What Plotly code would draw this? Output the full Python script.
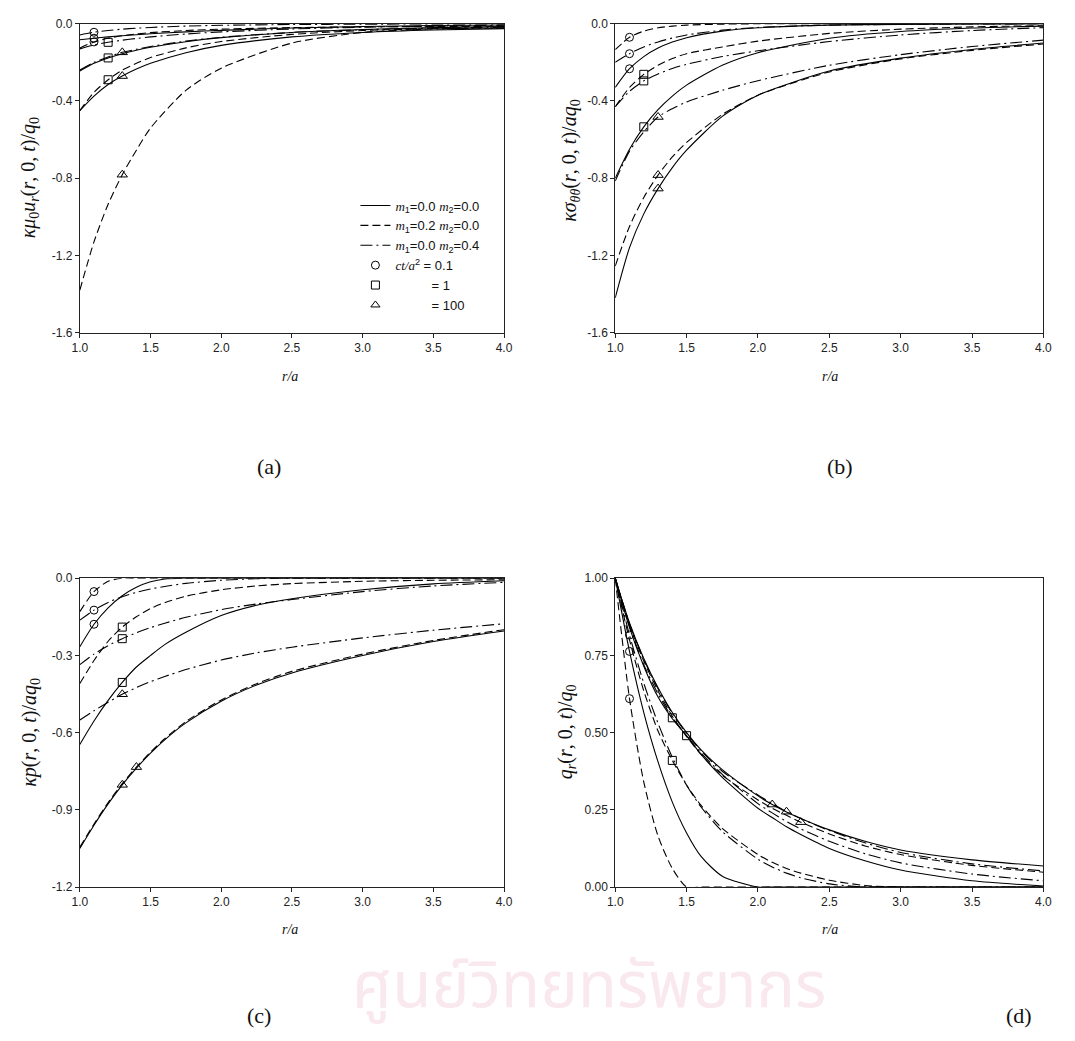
import plotly.graph_objects as go

# ---- radial positions (r/a) used for each panel ----
R_A = [1.0, 1.1, 1.2, 1.3, 1.4, 1.5, 1.75, 2.0, 2.5, 3.0, 3.5, 4.0]
R_B = [1.0, 1.1, 1.2, 1.3, 1.4, 1.5, 1.75, 2.0, 2.5, 3.0, 3.5, 4.0]
R_C = [1.0, 1.1, 1.2, 1.3, 1.4, 1.5, 1.6, 1.75, 2.0, 2.25, 2.5, 3.0, 3.5, 4.0]
R_D = [1.0, 1.1, 1.2, 1.3, 1.4, 1.5, 1.6, 1.75, 2.0, 2.1, 2.2, 2.3, 2.5, 2.75, 3.0, 3.5, 4.0]

# ---- (a) radial displacement ----
A_SOLID_T01 = [-0.083, -0.075, -0.068, -0.062, -0.057, -0.052, -0.042, -0.034, -0.022, -0.014, -0.009, -0.006]
A_DASH_T01 = [-0.125, -0.094, -0.075, -0.062, -0.053, -0.046, -0.035, -0.028, -0.020, -0.016, -0.014, -0.013]
A_DOT_T01 = [-0.058, -0.044, -0.035, -0.028, -0.023, -0.019, -0.012, -0.008, -0.004, -0.002, -0.001, -0.001]
A_SOLID_T1 = [-0.245, -0.205, -0.177, -0.155, -0.137, -0.122, -0.093, -0.072, -0.045, -0.030, -0.020, -0.014]
A_DASH_T1 = [-0.450, -0.355, -0.290, -0.240, -0.205, -0.175, -0.125, -0.092, -0.055, -0.035, -0.026, -0.021]
A_DOT_T1 = [-0.130, -0.110, -0.096, -0.085, -0.076, -0.068, -0.053, -0.042, -0.027, -0.018, -0.012, -0.008]
A_SOLID_T100 = [-0.450, -0.375, -0.315, -0.271, -0.235, -0.205, -0.150, -0.112, -0.068, -0.045, -0.032, -0.025]
A_DASH_T100 = [-1.380, -1.130, -0.935, -0.782, -0.655, -0.540, -0.345, -0.230, -0.100, -0.045, -0.027, -0.022]
A_DOT_T100 = [-0.240, -0.200, -0.172, -0.148, -0.132, -0.118, -0.090, -0.070, -0.045, -0.031, -0.023, -0.018]

# ---- (b) hoop stress ----
B_SOLID_T01 = [-0.330, -0.233, -0.170, -0.126, -0.095, -0.072, -0.038, -0.021, -0.007, -0.003, -0.001, 0.0]
B_DASH_T01 = [-0.134, -0.070, -0.038, -0.021, -0.012, -0.007, -0.002, 0.0, 0.0, 0.0, 0.0, 0.0]
B_DOT_T01 = [-0.200, -0.155, -0.120, -0.094, -0.074, -0.058, -0.033, -0.019, -0.007, -0.003, -0.001, 0.0]
B_SOLID_T1 = [-0.800, -0.650, -0.534, -0.445, -0.375, -0.318, -0.215, -0.150, -0.075, -0.040, -0.022, -0.012]
B_DASH_T1 = [-0.430, -0.330, -0.262, -0.215, -0.180, -0.155, -0.120, -0.090, -0.050, -0.028, -0.016, -0.010]
B_DOT_T1 = [-0.430, -0.350, -0.296, -0.260, -0.232, -0.210, -0.170, -0.140, -0.092, -0.058, -0.035, -0.020]
B_SOLID_T100 = [-1.420, -1.160, -0.985, -0.854, -0.745, -0.655, -0.480, -0.370, -0.245, -0.178, -0.133, -0.100]
B_DASH_T100 = [-1.255, -1.050, -0.900, -0.784, -0.690, -0.615, -0.470, -0.370, -0.250, -0.182, -0.138, -0.105]
B_DOT_T100 = [-0.815, -0.660, -0.560, -0.483, -0.440, -0.405, -0.345, -0.295, -0.215, -0.160, -0.118, -0.085]

# ---- (c) pore pressure ----
C_SOLID_T01 = [-0.266, -0.179, -0.115, -0.068, -0.035, -0.014, -0.003, 0.0, 0.0, 0.0, 0.0, 0.0, 0.0, 0.0]
C_DASH_T01 = [-0.130, -0.052, -0.012, 0.0, 0.0, 0.0, 0.0, 0.0, 0.0, 0.0, 0.0, 0.0, 0.0, 0.0]
C_DOT_T01 = [-0.163, -0.124, -0.094, -0.072, -0.055, -0.042, -0.032, -0.020, -0.008, -0.002, 0.0, 0.0, 0.0, 0.0]
C_SOLID_T1 = [-0.646, -0.555, -0.475, -0.405, -0.345, -0.300, -0.258, -0.210, -0.145, -0.105, -0.080, -0.045, -0.022, -0.010]
C_DASH_T1 = [-0.409, -0.320, -0.245, -0.190, -0.150, -0.118, -0.095, -0.070, -0.045, -0.030, -0.021, -0.012, -0.008, -0.006]
C_DOT_T1 = [-0.336, -0.295, -0.262, -0.235, -0.212, -0.192, -0.175, -0.152, -0.122, -0.100, -0.083, -0.052, -0.030, -0.016]
C_SOLID_T100 = [-1.050, -0.960, -0.877, -0.803, -0.738, -0.680, -0.628, -0.562, -0.478, -0.415, -0.368, -0.300, -0.246, -0.205]
C_DASH_T100 = [-1.045, -0.955, -0.872, -0.798, -0.734, -0.676, -0.624, -0.557, -0.473, -0.410, -0.362, -0.295, -0.242, -0.200]
C_DOT_T100 = [-0.551, -0.515, -0.482, -0.451, -0.425, -0.402, -0.382, -0.355, -0.318, -0.290, -0.268, -0.232, -0.202, -0.177]

# ---- (d) radial fluid flux ----
D_SOLID_T01 = [1.0, 0.763, 0.565, 0.405, 0.275, 0.175, 0.100, 0.035, 0.0, 0.0, 0.0, 0.0, 0.0, 0.0, 0.0, 0.0, 0.0]
D_DASH_T01 = [1.0, 0.610, 0.340, 0.165, 0.060, 0.0, 0.0, 0.0, 0.0, 0.0, 0.0, 0.0, 0.0, 0.0, 0.0, 0.0, 0.0]
D_DOT_T01 = [1.0, 0.816, 0.660, 0.530, 0.420, 0.330, 0.260, 0.180, 0.090, 0.065, 0.045, 0.030, 0.010, 0.0, 0.0, 0.0, 0.0]
D_SOLID_T1 = [1.0, 0.840, 0.715, 0.615, 0.545, 0.490, 0.430, 0.355, 0.255, 0.225, 0.195, 0.170, 0.125, 0.085, 0.055, 0.020, 0.003]
D_DASH_T1 = [1.0, 0.800, 0.635, 0.505, 0.410, 0.330, 0.265, 0.190, 0.105, 0.080, 0.060, 0.045, 0.022, 0.005, 0.0, 0.0, 0.0]
D_DOT_T1 = [1.0, 0.845, 0.720, 0.625, 0.548, 0.490, 0.435, 0.365, 0.270, 0.240, 0.212, 0.188, 0.148, 0.108, 0.078, 0.042, 0.020]
D_SOLID_T100 = [1.0, 0.855, 0.740, 0.645, 0.565, 0.500, 0.445, 0.380, 0.295, 0.267, 0.243, 0.222, 0.185, 0.148, 0.120, 0.088, 0.068]
D_DASH_T100 = [1.0, 0.850, 0.732, 0.635, 0.553, 0.487, 0.430, 0.362, 0.282, 0.255, 0.232, 0.210, 0.172, 0.133, 0.105, 0.070, 0.048]
D_DOT_T100 = [1.0, 0.853, 0.737, 0.642, 0.562, 0.497, 0.442, 0.375, 0.298, 0.270, 0.244, 0.222, 0.183, 0.143, 0.112, 0.075, 0.052]

# r/a where each time level carries its symbol, per panel: (t=0.1, t=1, t=100)
MARK_A = {"solid": (1.1, 1.2, 1.3), "dash": (1.1, 1.2, 1.3), "dot": (1.1, 1.2, 1.3)}
MARK_B = {"solid": (1.1, 1.2, 1.3), "dash": (1.1, 1.2, 1.3), "dot": (1.1, 1.2, 1.3)}
MARK_C = {"solid": (1.1, 1.3, 1.3), "dash": (1.1, 1.3, 1.4), "dot": (1.1, 1.3, 1.3)}
MARK_D = {"solid": (1.1, 1.5, 2.1), "dash": (1.1, 1.4, 2.3), "dot": (1.1, 1.4, 2.2)}

X_TICKS = [1.0, 1.5, 2.0, 2.5, 3.0, 3.5, 4.0]
X_TICK_TEXT = ["1.0", "1.5", "2.0", "2.5", "3.0", "3.5", "4.0"]
Y_TICKS_AB = [0.0, -0.4, -0.8, -1.2, -1.6]
Y_TICK_TEXT_AB = ["0.0", "-0.4", "-0.8", "-1.2", "-1.6"]
Y_TICKS_C = [0.0, -0.3, -0.6, -0.9, -1.2]
Y_TICK_TEXT_C = ["0.0", "-0.3", "-0.6", "-0.9", "-1.2"]
Y_TICKS_D = [0.0, 0.25, 0.5, 0.75, 1.0]
Y_TICK_TEXT_D = ["0.00", "0.25", "0.50", "0.75", "1.00"]

DASHES = {"solid": "solid", "dash": "8px,4px", "dot": "12px,4px,2px,4px"}
SYMBOLS = ("circle-open", "square-open", "triangle-up-open")

W, H = 1075, 1041
fig = go.Figure()


def add_panel(n, r, curves, marks):
    xa, ya = ("x", "y") if n == 1 else (f"x{n}", f"y{n}")
    for style, series in curves.items():
        for vals in series:
            fig.add_trace(go.Scatter(
                x=r, y=vals, mode="lines", xaxis=xa, yaxis=ya,
                line=dict(color="black", width=1.1, dash=DASHES[style],
                          shape="spline", smoothing=0.7),
                showlegend=False, hoverinfo="skip"))
    for style, series in curves.items():
        for k, vals in enumerate(series):
            i = r.index(marks[style][k])
            fig.add_trace(go.Scatter(
                x=[r[i]], y=[vals[i]], mode="markers", xaxis=xa, yaxis=ya,
                marker=dict(symbol=SYMBOLS[k], size=8 if k < 2 else 9,
                            color="black", line=dict(color="black", width=1)),
                showlegend=False, hoverinfo="skip"))


add_panel(1, R_A, {"solid": [A_SOLID_T01, A_SOLID_T1, A_SOLID_T100],
                   "dash": [A_DASH_T01, A_DASH_T1, A_DASH_T100],
                   "dot": [A_DOT_T01, A_DOT_T1, A_DOT_T100]}, MARK_A)
add_panel(2, R_B, {"solid": [B_SOLID_T01, B_SOLID_T1, B_SOLID_T100],
                   "dash": [B_DASH_T01, B_DASH_T1, B_DASH_T100],
                   "dot": [B_DOT_T01, B_DOT_T1, B_DOT_T100]}, MARK_B)
add_panel(3, R_C, {"solid": [C_SOLID_T01, C_SOLID_T1, C_SOLID_T100],
                   "dash": [C_DASH_T01, C_DASH_T1, C_DASH_T100],
                   "dot": [C_DOT_T01, C_DOT_T1, C_DOT_T100]}, MARK_C)
add_panel(4, R_D, {"solid": [D_SOLID_T01, D_SOLID_T1, D_SOLID_T100],
                   "dash": [D_DASH_T01, D_DASH_T1, D_DASH_T100],
                   "dot": [D_DOT_T01, D_DOT_T1, D_DOT_T100]}, MARK_D)

# legend entries (panel a)
M = "<i><span style='font-family:Liberation Serif'>m</span></i>"
LEGEND_LINES = [("solid", f"{M}<sub>1</sub>=0.0 {M}<sub>2</sub>=0.0"),
                ("dash", f"{M}<sub>1</sub>=0.2 {M}<sub>2</sub>=0.0"),
                ("dot", f"{M}<sub>1</sub>=0.0 {M}<sub>2</sub>=0.4")]
PAD = "\u00a0" * 10
LEGEND_MARKS = ["<i><span style='font-family:Liberation Serif'>ct/a</span></i><sup>2</sup> = 0.1",
                PAD + "= 1", PAD + "= 100"]
for style, label in LEGEND_LINES:
    fig.add_trace(go.Scatter(x=[None], y=[None], mode="lines", name=label,
                             line=dict(color="black", width=1.1, dash=DASHES[style])))
for sym, label in zip(SYMBOLS, LEGEND_MARKS):
    fig.add_trace(go.Scatter(x=[None], y=[None], mode="markers", name=label,
                             marker=dict(symbol=sym, size=8, color="black",
                                         line=dict(color="black", width=1))))

AX = dict(showline=True, mirror=True, linecolor="#222", linewidth=1,
          ticks="outside", ticklen=4, tickcolor="#222", showgrid=False,
          zeroline=False, tickfont=dict(family="Liberation Sans", size=12, color="#222"))


def px_x(p):
    return p / W


def px_y(p):
    return 1 - p / H


XD_L = [px_x(73), px_x(504)]
XD_R = [px_x(617), px_x(1052)]
YD_T = [px_y(330), px_y(17)]
YD_B = [px_y(892), px_y(579)]

fig.update_layout(
    width=W, height=H, margin=dict(l=0, r=0, t=0, b=0),
    paper_bgcolor="white", plot_bgcolor="rgba(0,0,0,0)",
    xaxis=dict(domain=XD_L, range=[1, 4], anchor="y", tickvals=X_TICKS, ticktext=X_TICK_TEXT, **AX),
    yaxis=dict(domain=YD_T, range=[-1.6, 0], anchor="x", tickvals=Y_TICKS_AB, ticktext=Y_TICK_TEXT_AB, **AX),
    xaxis2=dict(domain=XD_R, range=[1, 4], anchor="y2", tickvals=X_TICKS, ticktext=X_TICK_TEXT, **AX),
    yaxis2=dict(domain=YD_T, range=[-1.6, 0], anchor="x2", tickvals=Y_TICKS_AB, ticktext=Y_TICK_TEXT_AB, **AX),
    xaxis3=dict(domain=XD_L, range=[1, 4], anchor="y3", tickvals=X_TICKS, ticktext=X_TICK_TEXT, **AX),
    yaxis3=dict(domain=YD_B, range=[-1.2, 0], anchor="x3", tickvals=Y_TICKS_C, ticktext=Y_TICK_TEXT_C, **AX),
    xaxis4=dict(domain=XD_R, range=[1, 4], anchor="y4", tickvals=X_TICKS, ticktext=X_TICK_TEXT, **AX),
    yaxis4=dict(domain=YD_B, range=[0, 1], anchor="x4", tickvals=Y_TICKS_D, ticktext=Y_TICK_TEXT_D, **AX),
    legend=dict(x=px_x(353), y=px_y(186), xanchor="left", yanchor="top",
                bgcolor="rgba(0,0,0,0)", font=dict(family="Liberation Sans", size=13, color="#111"),
                tracegroupgap=0, itemwidth=30),
)

SERIF = "Liberation Serif"
notes = [
    # faint library watermark text
    dict(x=px_x(590), y=px_y(994), text="ศูนย์วิทยทรัพยากร",
         font=dict(family="Noto Sans Thai, Noto Sans, sans-serif", size=64, color="#f9e8ee")),
    # axis titles
    dict(x=px_x(287), y=px_y(375), text="<i>r/a</i>", font=dict(family=SERIF, size=14, color="#111")),
    dict(x=px_x(835), y=px_y(375), text="<i>r/a</i>", font=dict(family=SERIF, size=14, color="#111")),
    dict(x=px_x(287), y=px_y(935), text="<i>r/a</i>", font=dict(family=SERIF, size=14, color="#111")),
    dict(x=px_x(835), y=px_y(935), text="<i>r/a</i>", font=dict(family=SERIF, size=14, color="#111")),
    dict(x=px_x(22), y=px_y(173), textangle=-90,
         text="<i>κμ</i><sub>0</sub><i>u</i><sub><i>r</i></sub>(<i>r</i>, 0, <i>t</i>)/<i>q</i><sub>0</sub>",
         font=dict(family=SERIF, size=20, color="#111")),
    dict(x=px_x(572), y=px_y(156), textangle=-90,
         text="<i>κσ</i><sub><i>θθ</i></sub>(<i>r</i>, 0, <i>t</i>)/<i>aq</i><sub>0</sub>",
         font=dict(family=SERIF, size=20, color="#111")),
    dict(x=px_x(22), y=px_y(735), textangle=-90,
         text="<i>κp</i>(<i>r</i>, 0, <i>t</i>)/<i>aq</i><sub>0</sub>",
         font=dict(family=SERIF, size=20, color="#111")),
    dict(x=px_x(567), y=px_y(735), textangle=-90,
         text="<i>q</i><sub><i>r</i></sub>(<i>r</i>, 0, <i>t</i>)/<i>q</i><sub>0</sub>",
         font=dict(family=SERIF, size=20, color="#111")),
    # panel captions
    dict(x=px_x(265), y=px_y(466), text="(a)", font=dict(family=SERIF, size=22, color="#111")),
    dict(x=px_x(845), y=px_y(466), text="(b)", font=dict(family=SERIF, size=22, color="#111")),
    dict(x=px_x(255), y=px_y(1022), text="(c)", font=dict(family=SERIF, size=22, color="#111")),
    dict(x=px_x(1027), y=px_y(1022), text="(d)", font=dict(family=SERIF, size=22, color="#111")),
]
for a in notes:
    fig.add_annotation(xref="paper", yref="paper", showarrow=False,
                       xanchor="center", yanchor="middle", **a)

fig.write_html("out.html")
